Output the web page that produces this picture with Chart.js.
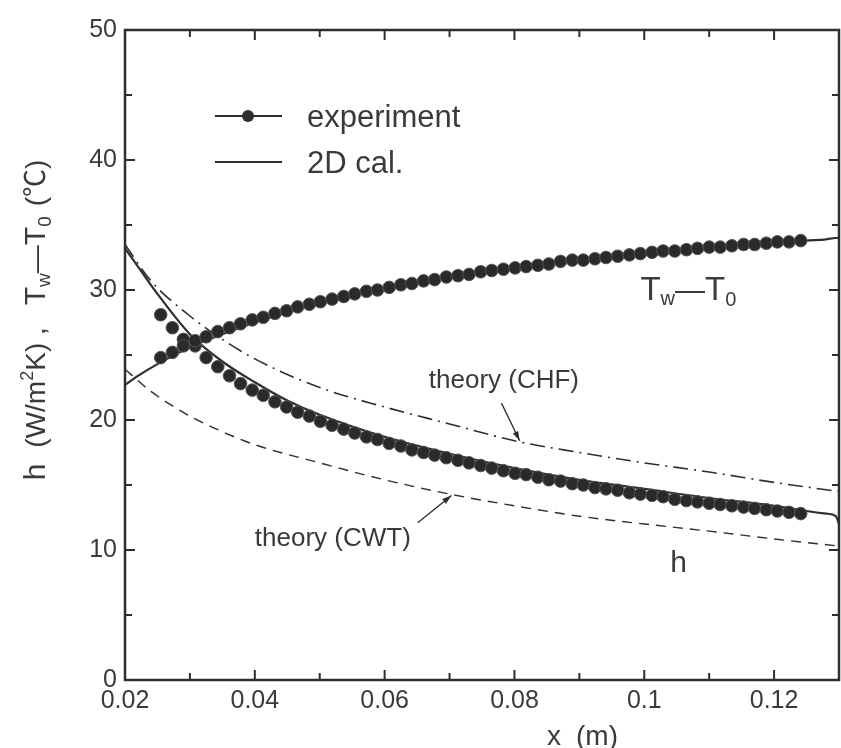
<!DOCTYPE html>
<html>
<head>
<meta charset="utf-8">
<script src="https://cdn.jsdelivr.net/npm/chart.js@4.4.1/dist/chart.umd.min.js"></script>
<style>
  html, body { margin: 0; padding: 0; background: #fff; overflow: hidden; }
  #wrap { width: 841px; height: 748px; position: relative; }
</style>
</head>
<body>
<div id="wrap"><canvas id="chart"></canvas></div>
<script>
// measured positions along the plate (m)
var expX = [0.0255, 0.0273, 0.0290, 0.0308, 0.0325, 0.0343, 0.0361, 0.0378, 0.0396, 0.0413,
            0.0431, 0.0449, 0.0466, 0.0484, 0.0501, 0.0519, 0.0537, 0.0554, 0.0572, 0.0589,
            0.0607, 0.0625, 0.0642, 0.0660, 0.0677, 0.0695, 0.0713, 0.0730, 0.0748, 0.0765,
            0.0783, 0.0801, 0.0818, 0.0836, 0.0853, 0.0871, 0.0889, 0.0906, 0.0924, 0.0941,
            0.0959, 0.0977, 0.0994, 0.1012, 0.1029, 0.1047, 0.1065, 0.1082, 0.1100, 0.1117,
            0.1135, 0.1153, 0.1170, 0.1188, 0.1205, 0.1223, 0.1241];
// experiment, Tw - T0 (C)
var expTw = [24.8, 25.2, 25.7, 26.1, 26.4, 26.8, 27.1, 27.4, 27.7, 27.9,
             28.2, 28.4, 28.7, 28.9, 29.1, 29.3, 29.5, 29.7, 29.9, 30.0,
             30.2, 30.4, 30.5, 30.7, 30.8, 31.0, 31.1, 31.2, 31.4, 31.5,
             31.6, 31.7, 31.8, 31.9, 32.0, 32.2, 32.3, 32.3, 32.4, 32.5,
             32.6, 32.7, 32.8, 32.9, 33.0, 33.0, 33.1, 33.2, 33.3, 33.3,
             33.4, 33.5, 33.5, 33.6, 33.7, 33.7, 33.8];
// experiment, h (W/m2K)
var expH = [28.1, 27.1, 26.2, 25.7, 24.8, 24.1, 23.4, 22.8, 22.3, 21.9,
            21.4, 21.0, 20.6, 20.3, 19.9, 19.6, 19.3, 19.0, 18.7, 18.5,
            18.2, 18.0, 17.7, 17.5, 17.3, 17.1, 16.9, 16.7, 16.5, 16.3,
            16.1, 15.9, 15.8, 15.6, 15.4, 15.3, 15.1, 15.0, 14.8, 14.7,
            14.6, 14.4, 14.3, 14.2, 14.1, 13.9, 13.8, 13.7, 13.6, 13.5,
            13.4, 13.3, 13.2, 13.1, 13.0, 12.9, 12.8];

// 2D calculation
var calX  = [0.02, 0.022, 0.025, 0.03, 0.035, 0.04, 0.045, 0.05, 0.06, 0.07, 0.08, 0.09, 0.10, 0.11, 0.12, 0.125, 0.128, 0.1295, 0.13];
var calTw = [22.7, 23.4, 24.3, 25.6, 26.6, 27.5, 28.3, 29.0, 30.1, 31.0, 31.7, 32.3, 32.8, 33.2, 33.6, 33.8, 33.9, 34.0, 34.0];
var calH  = [33.2, 31.8, 29.7, 26.6, 24.5, 22.9, 21.5, 20.4, 18.7, 17.4, 16.3, 15.4, 14.7, 14.0, 13.4, 13.0, 12.8, 12.6, 12.0];

// theory curves
var theoryX = [0.02, 0.024, 0.03, 0.035, 0.04, 0.05, 0.06, 0.07, 0.08, 0.09, 0.10, 0.11, 0.12, 0.13];
var chfH    = [33.5, 30.7, 28.0, 26.2, 24.7, 22.5, 21.0, 19.7, 18.4, 17.5, 16.7, 16.0, 15.2, 14.5];
var cwtH    = [23.9, 22.2, 20.3, 19.1, 18.1, 16.7, 15.4, 14.3, 13.4, 12.6, 12.0, 11.45, 10.85, 10.3];

var xTicks = [0.02, 0.04, 0.06, 0.08, 0.1, 0.12];
var xTickLabels = ['0.02', '0.04', '0.06', '0.08', '0.1', '0.12'];
var xMinor = [0.03, 0.05, 0.07, 0.09, 0.11];
var yTicks = [0, 10, 20, 30, 40, 50];
var yMinor = [5, 15, 25, 35, 45];

var ink = '#2e2e2e';
var textInk = '#3a3a3a';
var FONT = "'Liberation Sans', Arial, 'Noto Sans CJK SC', sans-serif";

function pts(xs, ys) {
    return xs.map(function(x, i) { return {x: x, y: ys[i]}; });
}

// draws a run of text pieces (sub/superscripts) starting at x along the baseline
function drawPieces(ctx, pieces, x, y) {
    pieces.forEach(function(p) {
        ctx.font = p.size + 'px ' + FONT;
        if (p.text !== ' ') {
            ctx.fillText(p.text, x, y + (p.dy || 0));
        }
        x += (p.w !== undefined) ? p.w : ctx.measureText(p.text).width;
    });
    return x;
}

function piecesWidth(ctx, pieces) {
    var w = 0;
    pieces.forEach(function(p) {
        ctx.font = p.size + 'px ' + FONT;
        w += (p.w !== undefined) ? p.w : ctx.measureText(p.text).width;
    });
    return w;
}

function arrow(ctx, x0, y0, x1, y1) {
    var ang = Math.atan2(y1 - y0, x1 - x0);
    ctx.beginPath();
    ctx.moveTo(x0, y0);
    ctx.lineTo(x1, y1);
    ctx.stroke();
    ctx.beginPath();
    ctx.moveTo(x1, y1);
    ctx.lineTo(x1 - 10 * Math.cos(ang - 0.3), y1 - 10 * Math.sin(ang - 0.3));
    ctx.lineTo(x1 - 10 * Math.cos(ang + 0.3), y1 - 10 * Math.sin(ang + 0.3));
    ctx.closePath();
    ctx.fill();
}

var decor = {
    id: 'decor',
    afterDraw: function(chart) {
        var ctx = chart.ctx;
        var a = chart.chartArea;
        var xs = chart.scales.x;
        var ys = chart.scales.y;
        ctx.save();

        // frame
        ctx.strokeStyle = ink;
        ctx.lineWidth = 2.5;
        ctx.strokeRect(a.left, a.top, a.right - a.left, a.bottom - a.top);

        // inward ticks on all four sides
        ctx.lineWidth = 2;
        function xTick(v, len) {
            var px = xs.getPixelForValue(v);
            ctx.beginPath();
            ctx.moveTo(px, a.bottom); ctx.lineTo(px, a.bottom - len);
            ctx.moveTo(px, a.top); ctx.lineTo(px, a.top + len);
            ctx.stroke();
        }
        function yTick(v, len) {
            var py = ys.getPixelForValue(v);
            ctx.beginPath();
            ctx.moveTo(a.left, py); ctx.lineTo(a.left + len, py);
            ctx.moveTo(a.right, py); ctx.lineTo(a.right - len, py);
            ctx.stroke();
        }
        xTicks.forEach(function(v) { xTick(v, 10); });
        xMinor.forEach(function(v) { xTick(v, 7); });
        yTicks.forEach(function(v) { yTick(v, 10); });
        yMinor.forEach(function(v) { yTick(v, 7); });

        // legend
        ctx.lineWidth = 2.2;
        ctx.beginPath();
        ctx.moveTo(215, 116); ctx.lineTo(282, 116);
        ctx.moveTo(215, 162); ctx.lineTo(282, 162);
        ctx.stroke();
        ctx.fillStyle = ink;
        ctx.beginPath();
        ctx.arc(248, 116, 6, 0, Math.PI * 2);
        ctx.fill();
        ctx.fillStyle = textInk;
        ctx.textBaseline = 'alphabetic';
        ctx.textAlign = 'left';
        ctx.font = '31px ' + FONT;
        ctx.fillText('experiment', 307, 127);
        ctx.fillText('2D cal.', 307, 173);

        // curve annotations (anchored in data units)
        ctx.font = '26px ' + FONT;
        ctx.fillText('theory (CHF)', xs.getPixelForValue(0.0668), ys.getPixelForValue(22.5));
        ctx.fillText('theory (CWT)', xs.getPixelForValue(0.0400), ys.getPixelForValue(10.3));
        ctx.font = '30px ' + FONT;
        ctx.fillText('h', xs.getPixelForValue(0.1040), ys.getPixelForValue(8.3));

        drawPieces(ctx, [
            {text: 'T', size: 33},
            {text: 'w', size: 20, dy: 5},
            {text: '\u2014', size: 30, w: 30},
            {text: 'T', size: 33},
            {text: '0', size: 20, dy: 6}
        ], xs.getPixelForValue(0.0994), ys.getPixelForValue(29.2));

        // x axis caption sits off-centre in the original
        ctx.font = '28px ' + FONT;
        ctx.fillText('x', 547, 745);
        ctx.fillText('(m)', 576, 745);

        ctx.strokeStyle = ink;
        ctx.fillStyle = ink;
        ctx.lineWidth = 1.3;
        arrow(ctx, xs.getPixelForValue(0.0780), ys.getPixelForValue(21.3),
                   xs.getPixelForValue(0.0808), ys.getPixelForValue(18.4));
        arrow(ctx, xs.getPixelForValue(0.0651), ys.getPixelForValue(12.1),
                   xs.getPixelForValue(0.0703), ys.getPixelForValue(14.2));

        // y axis title, rotated
        var title = [
            {text: 'h', size: 30},
            {text: ' ', size: 30, w: 16},
            {text: '(W/m', size: 28},
            {text: '2', size: 18, dy: -12},
            {text: 'K)', size: 28},
            {text: ' ,', size: 28},
            {text: ' ', size: 28, w: 22},
            {text: 'T', size: 30},
            {text: 'w', size: 19, dy: 5},
            {text: '\u2014', size: 28, w: 28},
            {text: 'T', size: 30},
            {text: '0', size: 19, dy: 6},
            {text: ' ', size: 28, w: 10},
            {text: '(\u2103)', size: 28}
        ];
        ctx.fillStyle = textInk;
        ctx.translate(45, 320);
        ctx.rotate(-Math.PI / 2);
        drawPieces(ctx, title, -piecesWidth(ctx, title) / 2, 0);
        ctx.restore();
    }
};

var dotStyle = {
    showLine: false,
    pointRadius: 6.3,
    pointBackgroundColor: '#2a2a2a',
    pointBorderColor: '#555555',
    pointBorderWidth: 1
};

var lineStyle = {
    showLine: true,
    pointRadius: 0,
    borderColor: ink,
    cubicInterpolationMode: 'monotone'
};

new Chart(document.getElementById('chart'), {
    type: 'scatter',
    data: {
        datasets: [
            Object.assign({label: 'experiment Tw-T0', data: pts(expX, expTw)}, dotStyle),
            Object.assign({label: 'experiment h', data: pts(expX, expH)}, dotStyle),
            Object.assign({label: '2D cal. Tw-T0', data: pts(calX, calTw), borderWidth: 2.2}, lineStyle),
            Object.assign({label: '2D cal. h', data: pts(calX, calH), borderWidth: 2.2}, lineStyle),
            Object.assign({label: 'theory (CHF)', data: pts(theoryX, chfH), borderWidth: 1.6,
                           borderDash: [15, 6, 2, 6]}, lineStyle),
            Object.assign({label: 'theory (CWT)', data: pts(theoryX, cwtH), borderWidth: 1.4,
                           borderDash: [10, 7]}, lineStyle)
        ]
    },
    options: {
        responsive: true,
        maintainAspectRatio: false,
        animation: false,
        layout: {
            autoPadding: false,
            padding: {top: 30, right: 2, left: 0, bottom: 0}
        },
        plugins: {
            legend: {display: false},
            tooltip: {enabled: false}
        },
        scales: {
            x: {
                type: 'linear',
                min: 0.02,
                max: 0.13,
                grid: {display: false, drawTicks: false},
                border: {display: false},
                afterBuildTicks: function(scale) {
                    scale.ticks = xTicks.map(function(v) { return {value: v}; });
                },
                afterFit: function(scale) {
                    scale.height = 68;
                    scale.paddingLeft = 0;
                    scale.paddingRight = 0;
                },
                ticks: {
                    autoSkip: false,
                    maxRotation: 0,
                    padding: 6,
                    color: textInk,
                    font: {family: FONT, size: 25},
                    callback: function(value, index) {
                        return xTickLabels[index];
                    }
                },
                title: {display: false}
            },
            y: {
                type: 'linear',
                min: 0,
                max: 50,
                grid: {display: false, drawTicks: false},
                border: {display: false},
                afterBuildTicks: function(scale) {
                    scale.ticks = yTicks.map(function(v) { return {value: v}; });
                },
                afterFit: function(scale) {
                    scale.width = 125;
                    scale.paddingTop = 0;
                    scale.paddingBottom = 0;
                },
                ticks: {
                    autoSkip: false,
                    padding: 8,
                    color: textInk,
                    font: {family: FONT, size: 25}
                }
            }
        }
    },
    plugins: [decor]
});
</script>
</body>
</html>
